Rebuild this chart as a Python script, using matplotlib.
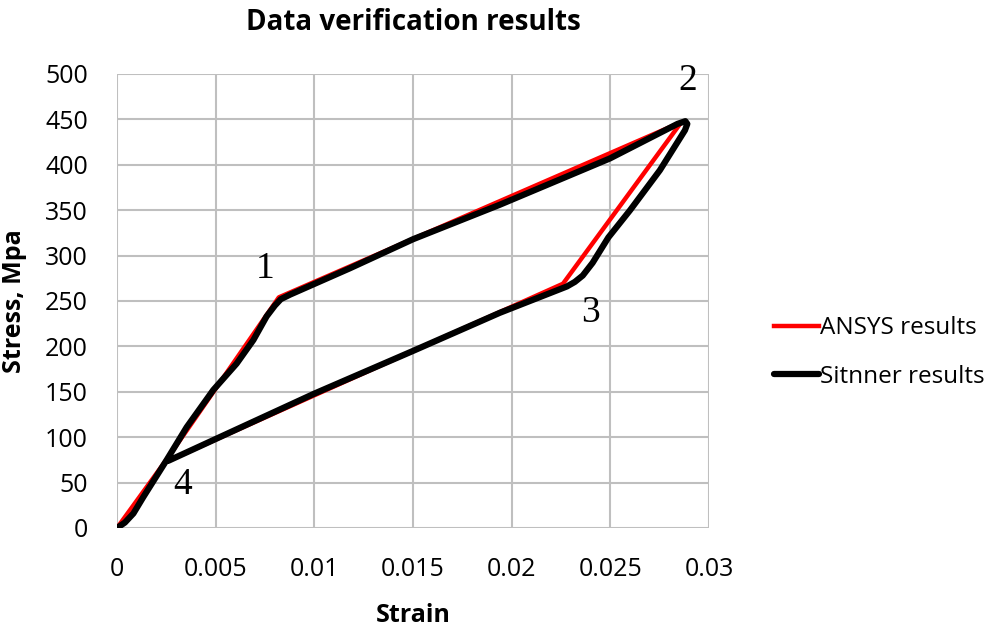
import matplotlib.pyplot as plt

# ANSYS model: piecewise loading/unloading cycle (0 -> 1 -> 2 -> 3 -> 4)
ansys_strain = [0, 0.0025, 0.0082, 0.0286, 0.0226, 0.0025]
ansys_stress = [0, 75, 254, 447, 269, 73]

# Sitnner experimental curve
sitnner_strain = [0, 0.0004, 0.00083, 0.00133, 0.00252, 0.00353, 0.00488, 0.00606,
                  0.00691, 0.00758, 0.0080, 0.0083, 0.00877, 0.0118, 0.015, 0.0194,
                  0.02498, 0.0284, 0.0288, 0.0289, 0.02878, 0.02751, 0.026,
                  0.0249, 0.0245, 0.0241, 0.0236, 0.0232, 0.0228, 0.0194, 0.015,
                  0.010, 0.006, 0.0026]
sitnner_stress = [0, 6, 16, 34, 75, 111, 152, 181, 207, 233, 245, 252, 257, 286,
                  318, 356, 407, 445, 448, 445, 438, 394, 350, 320, 306, 292,
                  278, 271, 266, 237, 195, 148, 108, 74]

# point labels
point_labels = ["1", "2", "3", "4"]
point_x = [0.0075, 0.02894, 0.0240, 0.00335]
point_y = [286, 493, 237, 48]

fig = plt.figure(figsize=(10.07, 6.29), dpi=100)
ax = fig.add_axes([0.1162, 0.1606, 0.5879, 0.7218])

ax.plot(ansys_strain, ansys_stress, color="#ff0000", lw=3.2, label="ANSYS results",
        solid_joinstyle="round", zorder=3)
ax.plot(sitnner_strain, sitnner_stress, color="black", lw=4.5, label="Sitnner results",
        solid_joinstyle="round", solid_capstyle="round", zorder=4)

for t, x, y in zip(point_labels, point_x, point_y):
    ax.text(x, y, t, fontsize=27, family="Liberation Serif", ha="center", va="center",
            zorder=5)

ax.set_xlim(0, 0.03)
ax.set_ylim(0, 500)
ax.set_xticks([0, 0.005, 0.01, 0.015, 0.02, 0.025, 0.03])
ax.set_xticklabels(["0", "0.005", "0.01", "0.015", "0.02", "0.025", "0.03"])
ax.set_yticks(range(0, 501, 50))
ax.grid(True, color="#bfbfbf", lw=1.5)
ax.set_axisbelow(True)
for s in ax.spines.values():
    s.set_visible(False)
ax.tick_params(length=0, labelsize=18)
ax.tick_params(axis="x", pad=21)
ax.tick_params(axis="y", pad=21)
for lab in ax.get_xticklabels() + ax.get_yticklabels():
    lab.set_family("Open Sans")

fig.text(413 / 1007, 1 - 22 / 629, "Data verification results", fontsize=20,
         fontweight="bold", family="Open Sans", ha="center", va="center")
ax.set_xlabel("Strain", fontsize=18, fontweight="bold", family="Open Sans", va="center")
ax.set_ylabel("Stress, Mpa", fontsize=18, fontweight="bold", family="Open Sans",
              va="center")
ax.xaxis.set_label_coords(0.5, -0.192)
ax.yaxis.set_label_coords(-0.174, 0.5)

leg = fig.legend(*ax.get_legend_handles_labels(), loc="center left",
                 bbox_to_anchor=(762 / 1007, 1 - 352.5 / 629), frameon=False,
                 borderpad=0, handlelength=1.85, handletextpad=0.05, labelspacing=1.0,
                 prop={"family": "Open Sans", "size": 17.5})

fig.savefig("out.png", dpi=100)
